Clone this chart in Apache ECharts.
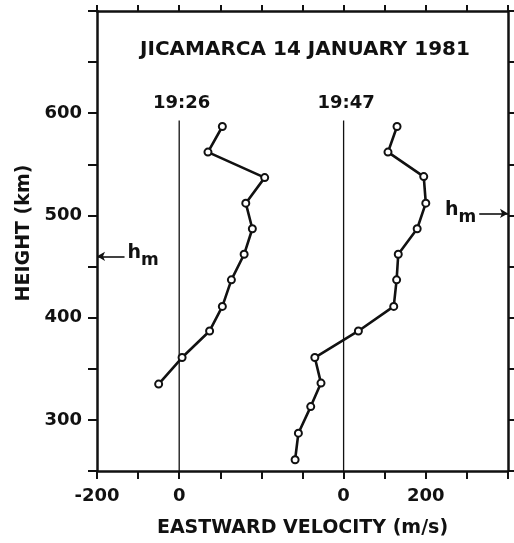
<!DOCTYPE html>
<html>
<head>
<meta charset="utf-8">
<script src="https://cdn.jsdelivr.net/npm/echarts@6/dist/echarts.min.js"></script>
<style>html,body{margin:0;padding:0;background:#fff;}#c{width:514px;height:543px;}</style>
</head>
<body>
<div id="c"></div>
<script>
// ---- data ----
const heights1926 = [587, 562, 537, 512, 487, 462, 437, 411, 387, 361, 335];
const vel1926     = [105,  70, 208, 162, 178, 158, 127, 105,  74,   7, -50];
const heights1947 = [587, 562, 538, 512, 487, 462, 437, 411, 387, 361, 336, 313, 287, 261];
const vel1947     = [130, 108, 195, 200, 179, 133, 129, 122,  36, -70, -55, -80, -110, -118];
const profileZero = [0, 400];           // plotting origin of each profile on the shared axis
const profileNames = ['19:26', '19:47'];
const hmHeights = [460, 502];           // h_m marks (km)
const xTickLabels = {'-200': '-200', '0': '0', '400': '0', '600': '200'};
const yTickLabels = [300, 400, 500, 600];
const titleText = 'JICAMARCA 14 JANUARY 1981';

const FONT = 'DejaVu Sans';
const INK = '#111';

const chart = echarts.init(document.getElementById('c'), null, {renderer: 'canvas'});

function profileData(vels, hs, zero) {
  return vels.map((v, i) => [v + zero, hs[i]]);
}

const axisCommon = {
  type: 'value',
  axisLine: {show: true, onZero: false, lineStyle: {color: INK, width: 2.5}},
  splitLine: {show: false},
  axisTick: {show: true, inside: false, length: 8, lineStyle: {color: INK, width: 2}}
};

const markerStyle = {color: '#fff', borderColor: INK, borderWidth: 2};

const option = {
  backgroundColor: '#fff',
  animation: false,
  title: {
    text: titleText,
    left: 300, textAlign: 'center',
    top: 35,
    textStyle: {fontFamily: FONT, fontWeight: 'bold', fontSize: 20, color: INK}
  },
  grid: {left: 97, right: 6, top: 11, bottom: 71, containLabel: false},
  xAxis: [
    Object.assign({}, axisCommon, {
      position: 'bottom', min: -200, max: 800, interval: 100,
      name: 'EASTWARD VELOCITY (m/s)', nameLocation: 'middle', nameGap: 48,
      nameTextStyle: {fontFamily: FONT, fontWeight: 'bold', fontSize: 19, color: INK},
      axisLabel: {
        show: true, margin: 16, fontFamily: FONT, fontWeight: 'bold', fontSize: 18, color: INK,
        formatter: v => (xTickLabels[String(v)] !== undefined ? xTickLabels[String(v)] : '')
      }
    }),
    Object.assign({}, axisCommon, {
      position: 'top', min: -200, max: 800, interval: 100,
      axisTick: {show: true, inside: false, length: 6, lineStyle: {color: INK, width: 2}},
      axisLabel: {show: false}
    })
  ],
  yAxis: [
    Object.assign({}, axisCommon, {
      position: 'left', min: 250, max: 700, interval: 50,
      name: 'HEIGHT (km)', nameLocation: 'middle', nameGap: 61, nameRotate: 90,
      nameTextStyle: {fontFamily: FONT, fontWeight: 'bold', fontSize: 19, color: INK, padding: [0, 0, 0, 16]},
      axisTick: {show: true, inside: false, length: 9, lineStyle: {color: INK, width: 2}},
      axisLabel: {
        show: true, margin: 15, fontFamily: FONT, fontWeight: 'bold', fontSize: 18, color: INK,
        formatter: v => (yTickLabels.indexOf(v) >= 0 ? String(v) : '')
      }
    }),
    Object.assign({}, axisCommon, {
      position: 'right', min: 250, max: 700, interval: 50,
      axisTick: {show: true, inside: false, length: 6, lineStyle: {color: INK, width: 2}},
      axisLabel: {show: false}
    })
  ],
  series: [
    // zero reference lines for each profile
    ...profileZero.map((z, k) => ({
      type: 'line', xAxisIndex: 0, yAxisIndex: 0, silent: true,
      data: [[z, 250], [z, 593]], symbol: 'none',
      lineStyle: {color: INK, width: 1.3}
    })),
    // profile labels
    {
      type: 'scatter', xAxisIndex: 0, yAxisIndex: 0, silent: true, symbolSize: 0,
      itemStyle: {opacity: 1},
      data: profileZero.map((z, k) => ({value: [z + 6, 610], name: profileNames[k]})),
      label: {show: true, position: 'inside', formatter: p => p.name, opacity: 1,
        fontFamily: FONT, fontWeight: 'bold', fontSize: 18, color: INK}
    },
    {
      type: 'line', name: '19:26', xAxisIndex: 0, yAxisIndex: 0,
      data: profileData(vel1926, heights1926, profileZero[0]),
      symbol: 'circle', symbolSize: 7, showAllSymbol: true,
      lineStyle: {color: INK, width: 2.6}, itemStyle: markerStyle, z: 5
    },
    {
      type: 'line', name: '19:47', xAxisIndex: 0, yAxisIndex: 0,
      data: profileData(vel1947, heights1947, profileZero[1]),
      symbol: 'circle', symbolSize: 7, showAllSymbol: true,
      lineStyle: {color: INK, width: 2.6}, itemStyle: markerStyle, z: 5
    },
    // h_m arrows
    {
      type: 'line', xAxisIndex: 0, yAxisIndex: 0, data: [], silent: true,
      markLine: {
        silent: true, animation: false,
        symbol: ['none', 'arrow'], symbolSize: [7, 8],
        lineStyle: {type: 'solid', color: INK, width: 1.6},
        label: {
          show: true, position: 'start', distance: 3,
          formatter: '{h|h}{m|m}',
          rich: {
            h: {fontFamily: FONT, fontWeight: 'bold', fontSize: 19, color: INK, lineHeight: 20, verticalAlign: 'top'},
            m: {fontFamily: FONT, fontWeight: 'bold', fontSize: 17, color: INK, lineHeight: 26, verticalAlign: 'bottom'}
          }
        },
        data: [
          [{coord: [-133, hmHeights[0]]}, {coord: [-200, hmHeights[0]]}],
          [{coord: [730, hmHeights[1]]}, {coord: [800, hmHeights[1]]}]
        ]
      }
    }
  ]
};
chart.setOption(option);
</script>
</body>
</html>
